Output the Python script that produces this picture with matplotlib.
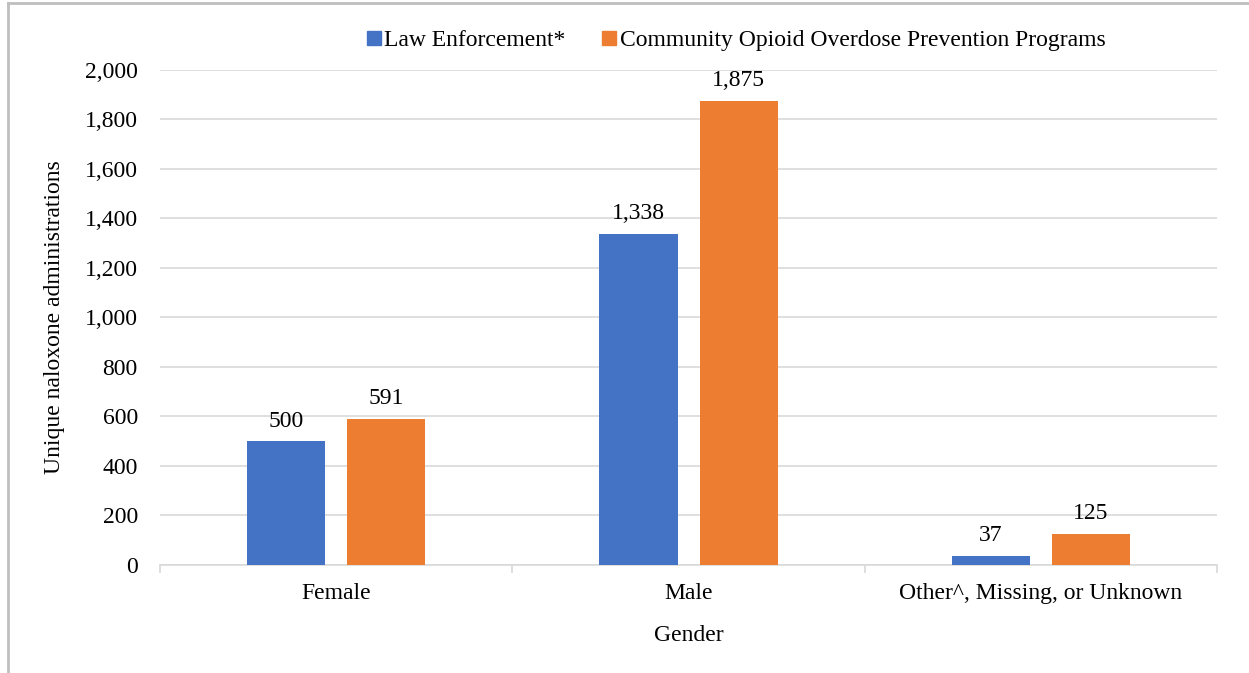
import matplotlib
matplotlib.use("Agg")
import matplotlib.pyplot as plt
import numpy as np
from matplotlib.lines import Line2D

categories = ["Female", "Male", "Other^, Missing, or Unknown"]
law_enforcement = [500, 1338, 37]
community_programs = [591, 1875, 125]
series_names = ["Law Enforcement*", "Community Opioid Overdose Prevention Programs"]
y_ticks = [0, 200, 400, 600, 800, 1000, 1200, 1400, 1600, 1800, 2000]

plt.rcParams["font.family"] = ["Liberation Serif", "DejaVu Serif"]
BLUE = "#4472C4"
ORANGE = "#ED7D31"
GRID = "#D9D9D9"
FS = 17

fig = plt.figure(figsize=(12.49, 6.73), dpi=100)
ax = fig.add_axes([0.1281, 0.1605, 0.8463, 0.7355])

x = np.arange(len(categories))
width = 0.222
offset = (width + 0.0625) / 2
b1 = ax.bar(x - offset, law_enforcement, width, color=BLUE, label=series_names[0], zorder=3)
b2 = ax.bar(x + offset, community_programs, width, color=ORANGE, label=series_names[1], zorder=3)

for bars, vals in ((b1, law_enforcement), (b2, community_programs)):
    for rect, v in zip(bars, vals):
        ax.annotate(f"{v:,}", (rect.get_x() + rect.get_width() / 2, v),
                    xytext=(0, 7), textcoords="offset points",
                    ha="center", va="bottom", fontsize=FS, color="#000000")

ax.set_xlim(-0.5, len(categories) - 0.5)
ax.set_ylim(0, 2000)
ax.set_yticks(y_ticks)
ax.set_yticklabels([f"{t:,}" for t in y_ticks], fontsize=FS)
ax.yaxis.grid(True, color=GRID, linewidth=1.2, zorder=0)
ax.tick_params(axis="y", length=0, pad=16)

ax.set_xticks(x)
ax.set_xticklabels(categories, fontsize=FS)
ax.tick_params(axis="x", length=0, pad=13)
# category boundary ticks
ax.set_xticks(np.arange(-0.5, len(categories), 1.0), minor=True)
ax.tick_params(axis="x", which="minor", length=6, color=GRID, width=1.2)

for s in ("top", "right", "left"):
    ax.spines[s].set_visible(False)
ax.spines["bottom"].set_color(GRID)
ax.spines["bottom"].set_linewidth(1.2)

ax.set_xlabel("Gender", fontsize=FS, labelpad=15)
ax.set_ylabel("Unique naloxone administrations", fontsize=FS, labelpad=14)

handles = [
    Line2D([], [], marker="s", linestyle="none", color=BLUE, markersize=10),
    Line2D([], [], marker="s", linestyle="none", color=ORANGE, markersize=10),
]
fig.legend(handles, series_names, loc="center", bbox_to_anchor=(0.588, 0.94),
           ncol=2, frameon=False, fontsize=FS, handletextpad=0.0,
           columnspacing=1.4, handlelength=0.9)

# frame lines of the chart area
fig.add_artist(Line2D([0.0061, 0.0061], [0.0, 0.996], transform=fig.transFigure,
                      color="#BFBFBF", linewidth=2))
fig.add_artist(Line2D([0.0061, 1.0], [0.996, 0.996], transform=fig.transFigure,
                      color="#BFBFBF", linewidth=2))

fig.savefig("out.png", dpi=100, facecolor="white")
